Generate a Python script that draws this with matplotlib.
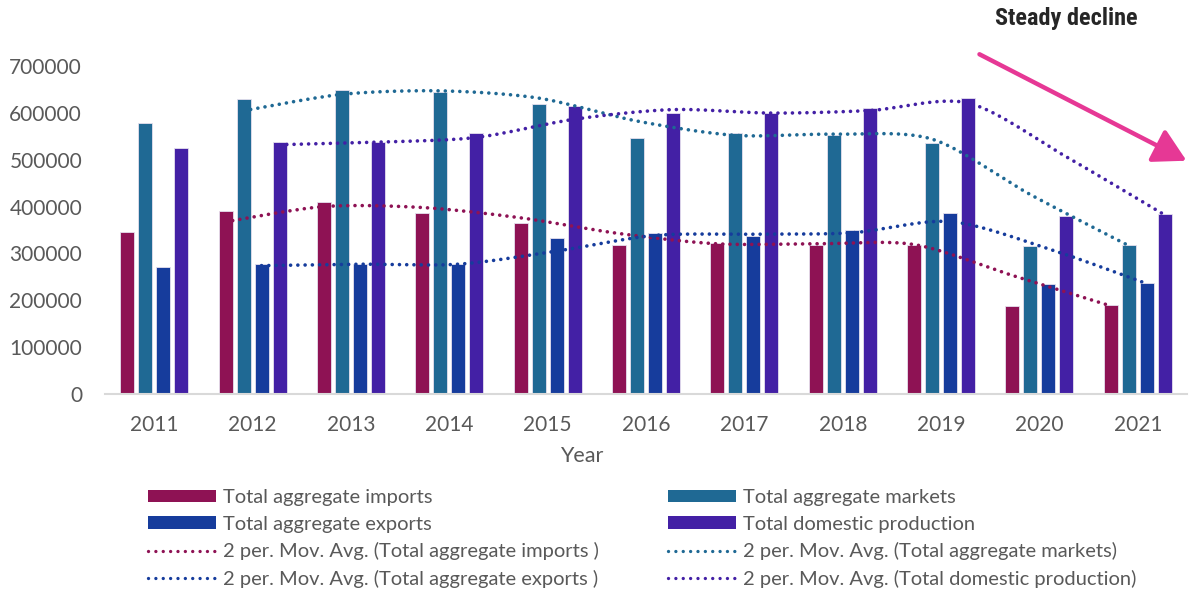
import numpy as np
import matplotlib
matplotlib.use("Agg")
import matplotlib.pyplot as plt
from matplotlib.patches import FancyArrowPatch, Patch
from matplotlib.lines import Line2D
from matplotlib import font_manager

# ---------------- data ----------------
years = ["2011", "2012", "2013", "2014", "2015", "2016", "2017", "2018", "2019", "2020", "2021"]
imports = [345000, 390000, 410000, 386000, 366000, 319000, 322000, 319000, 319000, 187000, 189000]
markets = [579000, 630000, 649000, 645000, 618000, 547000, 557000, 552000, 536000, 315000, 318000]
exports = [271000, 277000, 277000, 277000, 333000, 344000, 338000, 350000, 386000, 234000, 237000]
domestic = [526000, 538000, 537000, 558000, 615000, 599000, 600000, 610000, 632000, 380000, 384000]

series_names = ["Total aggregate imports", "Total aggregate markets",
                "Total aggregate exports", "Total domestic production"]
ma_names = ["2 per. Mov. Avg. (Total aggregate imports )",
            "2 per. Mov. Avg. (Total aggregate markets)",
            "2 per. Mov. Avg. (Total aggregate exports )",
            "2 per. Mov. Avg. (Total domestic production)"]
colors = ["#8E1254", "#1F6994", "#163C9C", "#4320A5"]

# ---------------- fonts ----------------
avail = {f.name for f in font_manager.fontManager.ttflist}
base_font = "Lato" if "Lato" in avail else "DejaVu Sans"
plt.rcParams["font.family"] = [base_font, "DejaVu Sans"]
title_font = [f for f in ["Liberation Sans Narrow", "Roboto Condensed", "Roboto"] if f in avail] + ["DejaVu Sans"]

W, H = 1191, 594
fig = plt.figure(figsize=(W / 100, H / 100), dpi=100)
ax = fig.add_axes([105 / W, (H - 394) / H, (1187 - 105) / W, (394 - 66) / H])

x = np.arange(len(years))
step = 0.183
bw = 0.142
offsets = (np.arange(4) - 1.5) * step
data = [imports, markets, exports, domestic]

for k, (vals, c) in enumerate(zip(data, colors)):
    ax.bar(x + offsets[k], vals, width=bw, color=c, edgecolor="#e6e0ee",
           linewidth=0.6, zorder=2)

# smoothed 2-period moving averages (Excel-style smoothing)
px_per_x = 98.4
px_per_y = 46.86 / 100000.0


def smooth(xs, ys, n=30, tension=1 / 7.0):
    X = np.asarray(xs) * px_per_x
    Y = np.asarray(ys) * px_per_y
    P = np.column_stack([X, Y])
    out = []
    for i in range(len(P) - 1):
        p0 = P[i - 1] if i > 0 else P[i]
        p1 = P[i]
        p2 = P[i + 1]
        p3 = P[i + 2] if i + 2 < len(P) else P[i + 1]
        c1 = p1 + (p2 - p0) * tension
        c2 = p2 - (p3 - p1) * tension
        t = np.linspace(0, 1, n, endpoint=(i == len(P) - 2))[:, None]
        seg = ((1 - t) ** 3) * p1 + 3 * ((1 - t) ** 2) * t * c1 + 3 * (1 - t) * t ** 2 * c2 + t ** 3 * p2
        out.append(seg)
    out = np.vstack(out)
    return out[:, 0] / px_per_x, out[:, 1] / px_per_y


for k, (vals, c) in enumerate(zip(data, colors)):
    v = np.asarray(vals, dtype=float)
    ma = (v[1:] + v[:-1]) / 2.0
    xs = x[1:] + offsets[k]
    sx, sy = smooth(xs, ma)
    ax.plot(sx, sy, color=c, lw=2.6, linestyle=(0, (0.01, 2.0)),
            dash_capstyle="round", zorder=3)

ax.set_xlim(-0.5, len(years) - 0.5)
ax.set_ylim(0, 700000)
ax.set_yticks(np.arange(0, 700001, 100000))
ax.set_yticklabels([str(v) for v in range(0, 700001, 100000)])
ax.set_xticks(x)
ax.set_xticklabels(years)
for s in ["top", "right", "left"]:
    ax.spines[s].set_visible(False)
ax.spines["bottom"].set_color("#D9D9D9")
ax.spines["bottom"].set_linewidth(1.5)
ax.tick_params(axis="both", length=0, colors="#595959", labelsize=15)
ax.tick_params(axis="y", pad=16.5)
ax.tick_params(axis="x", pad=15)
ax.set_xlabel("Year", fontsize=15.5, color="#595959")
ax.xaxis.set_label_coords((582 - 105) / (1187 - 105), -(456 - 394) / (394 - 66))
ax.xaxis.label.set_va("center")

# legends (two columns placed separately)
bar_handles = [Patch(facecolor=c, edgecolor="none") for c in colors]
line_handles = [Line2D([0], [0], color=c, lw=2.4, linestyle=(0, (0.01, 2.2)),
                       dash_capstyle="round") for c in colors]
col1_h = [bar_handles[0], bar_handles[2], line_handles[0], line_handles[2]]
col1_l = [series_names[0], series_names[2], ma_names[0], ma_names[2]]
col2_h = [bar_handles[1], bar_handles[3], line_handles[1], line_handles[3]]
col2_l = [series_names[1], series_names[3], ma_names[1], ma_names[3]]
leg_kw = dict(loc="upper left", frameon=False, fontsize=14.5, labelcolor="#595959",
              handlelength=3.38, handleheight=0.58, handletextpad=0.35,
              labelspacing=0.48, borderpad=0, borderaxespad=0)
leg1 = fig.legend(col1_h, col1_l, bbox_to_anchor=(148 / W, 1 - 489 / H), **leg_kw)
leg2 = fig.legend(col2_h, col2_l, bbox_to_anchor=(668 / W, 1 - 489 / H), **leg_kw)

# annotation
fig.text(1066 / W, 1 - 18 / H, "Steady decline", ha="center", va="center",
         fontsize=17.5, fontweight="bold", color="#262626", family=title_font)
arrow = FancyArrowPatch((977 / W, 1 - 53 / H), (1189 / W, 1 - 162 / H),
                        transform=fig.transFigure, arrowstyle="-|>,head_length=9,head_width=5",
                        color="#E63895", lw=3.2, mutation_scale=2.2)
fig.patches.append(arrow)

fig.savefig("out.png", dpi=100)
